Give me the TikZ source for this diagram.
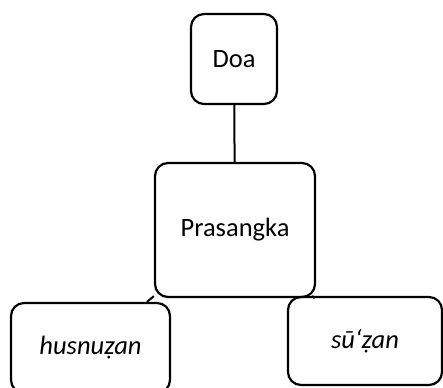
\documentclass[tikz,border=0pt]{standalone}
\usepackage{fontspec}
\setmainfont{Carlito}
\begin{document}
\begin{tikzpicture}[x=1pt,y=-1pt,
    box/.style={shape=rectangle,draw=black,line width=2.2pt,rounded corners=13pt,
      font=\fontsize{26.5}{30}\selectfont},
    top box/.style={box,minimum width=86pt,minimum height=90pt},
    mid box/.style={box,minimum width=160pt,minimum height=134pt},
    leaf box/.style={box,minimum width=156pt,minimum height=89pt}]
    \useasboundingbox (0,0) rectangle (443,387);
    \clip (0,0) rectangle (443,387);
    \node[top box] (doa) at (234,59) {Doa};
    \node[mid box] (prasangka) at (235,230) {Prasangka};
    \node[leaf box,minimum width=159pt,minimum height=90pt] (husnu) at (90.5,348) {\itshape husnuẓan};
    \node[leaf box,minimum width=154pt,minimum height=88pt] (suu) at (365,341) {\itshape sū‘ẓan};
    \draw[line width=2pt] (doa) -- (prasangka);
    \draw[line width=2pt] (prasangka) -- (husnu);
    \draw[line width=2pt] (prasangka) -- (suu);
\end{tikzpicture}
\end{document}
